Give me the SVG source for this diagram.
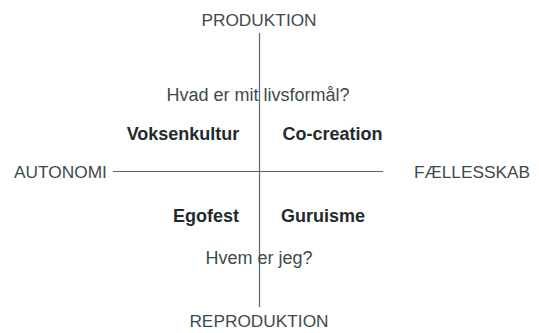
<svg xmlns="http://www.w3.org/2000/svg" width="539" height="333" viewBox="0 0 539 333">
<style>
.ax{font-family:"Liberation Sans",Arial,sans-serif;font-size:17.3px;fill:#3e4a4c;text-anchor:middle}
.q{font-family:"Liberation Sans",Arial,sans-serif;font-size:18px;fill:#3e4a4c;text-anchor:middle}
.b{font-family:"Liberation Sans",Arial,sans-serif;font-size:18px;font-weight:bold;fill:#1f2b2d;text-anchor:middle}
.ln{stroke:#5c6668;stroke-width:1.2;fill:none}
</style>
<rect width="539" height="333" fill="#ffffff"/>
<g id="connectors">
<line class="ln" x1="259.5" y1="33" x2="259.5" y2="307"/>
<line class="ln" x1="113" y1="171.5" x2="383" y2="171.5"/>
</g>
<g id="produktion"><text class="ax" x="259" y="26">PRODUKTION</text></g>
<g id="reproduktion"><text class="ax" x="259" y="327">REPRODUKTION</text></g>
<g id="autonomi"><text class="ax" x="60.5" y="178">AUTONOMI</text></g>
<g id="faellesskab"><text class="ax" x="472" y="178">FÆLLESSKAB</text></g>
<g id="q-top"><text class="q" x="258" y="101">Hvad er mit livsformål?</text></g>
<g id="q-bottom"><text class="q" x="259" y="264">Hvem er jeg?</text></g>
<g id="voksenkultur"><text class="b" x="183" y="140">Voksenkultur</text></g>
<g id="co-creation"><text class="b" x="332.5" y="140">Co-creation</text></g>
<g id="egofest"><text class="b" x="206" y="222">Egofest</text></g>
<g id="guruisme"><text class="b" x="323" y="222">Guruisme</text></g>
</svg>
